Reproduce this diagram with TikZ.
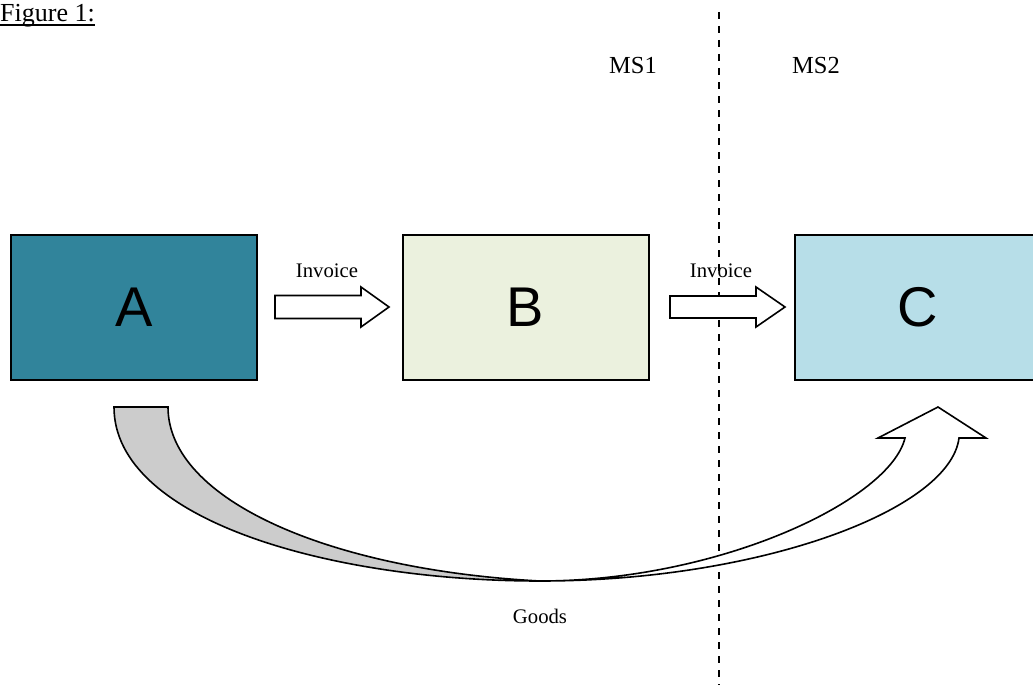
\documentclass[tikz,border=0pt]{standalone}
\usepackage{fontspec}
\setmainfont{Liberation Serif}
\newfontfamily\boxfont{Liberation Sans}
\definecolor{partyA}{HTML}{31849B}
\definecolor{partyB}{HTML}{EBF1DE}
\definecolor{partyC}{HTML}{B7DEE8}
\definecolor{ribbonback}{HTML}{CCCCCC}
\tikzset{
  party/.style={draw=black, line width=2pt, minimum width=246pt, minimum height=145pt,
    inner sep=0pt, font=\boxfont\fontsize{56}{60}\selectfont},
  blockarrow/.style={draw=black, fill=white, line width=1.6pt, line join=miter},
  smalllabel/.style={inner sep=0pt, font=\fontsize{20.7}{24}\selectfont},
  statelabel/.style={inner sep=0pt, font=\fontsize{24.5}{28}\selectfont},
  border/.style={line width=2pt, dash pattern=on 7pt off 7pt}
}
\begin{document}
\begin{tikzpicture}[x=1pt, y=-1pt]
  \useasboundingbox (0,0) rectangle (1033,685);
  \clip (0,0) rectangle (1033,685);

  % caption
  \node[anchor=base west, inner sep=0pt, font=\fontsize{26}{30}\selectfont] (fig) at (0,22) {Figure 1:};
  \draw[line width=1.6pt] ([yshift=-3pt]fig.base west) -- ([yshift=-3pt]fig.base east);

  % border between the two member states
  \coordinate (borderTop) at (719,12);
  \coordinate (borderBottom) at (719,685);
  \draw[border] (borderTop) -- (borderBottom);
  \node[statelabel] (ms1) at (633,66) {MS1};
  \node[statelabel] (ms2) at (816,66) {MS2};

  % goods flow: twisted curved block arrow from A to C
  \filldraw[fill=ribbonback, draw=black, line width=1.6pt]
    (114,407) -- (168,407)
    .. controls (168,500) and (330,570) .. (540,581)
    .. controls (330,581) and (114,520) .. (114,407) -- cycle;
  \filldraw[blockarrow]
    (540,581) .. controls (720,581) and (890,500) .. (905,438)
    -- (878,438) -- (938,407) -- (986,438) -- (959,438)
    .. controls (950,510) and (760,581) .. (540,581) -- cycle;
  \node[smalllabel] (goods) at (540,616) {Goods};

  % trading parties
  \node[party, fill=partyA] (A) at (134,307.5) {A};
  \node[party, fill=partyB] (B) at (525.5,307.5) {B};
  \node[party, fill=partyC] (C) at (918,307.5) {C};

  % invoice flows
  \filldraw[blockarrow] (275,295.5) -- (361,295.5) -- (361,287) -- (389,307)
    -- (361,327) -- (361,318.5) -- (275,318.5) -- cycle;
  \node[smalllabel] (inv1) at (327,271) {Invoice};
  \filldraw[blockarrow] (670,296) -- (756,296) -- (756,287) -- (785,307)
    -- (756,327) -- (756,318) -- (670,318) -- cycle;
  \node[smalllabel] (inv2) at (721,271) {Invoice};
\end{tikzpicture}
\end{document}
